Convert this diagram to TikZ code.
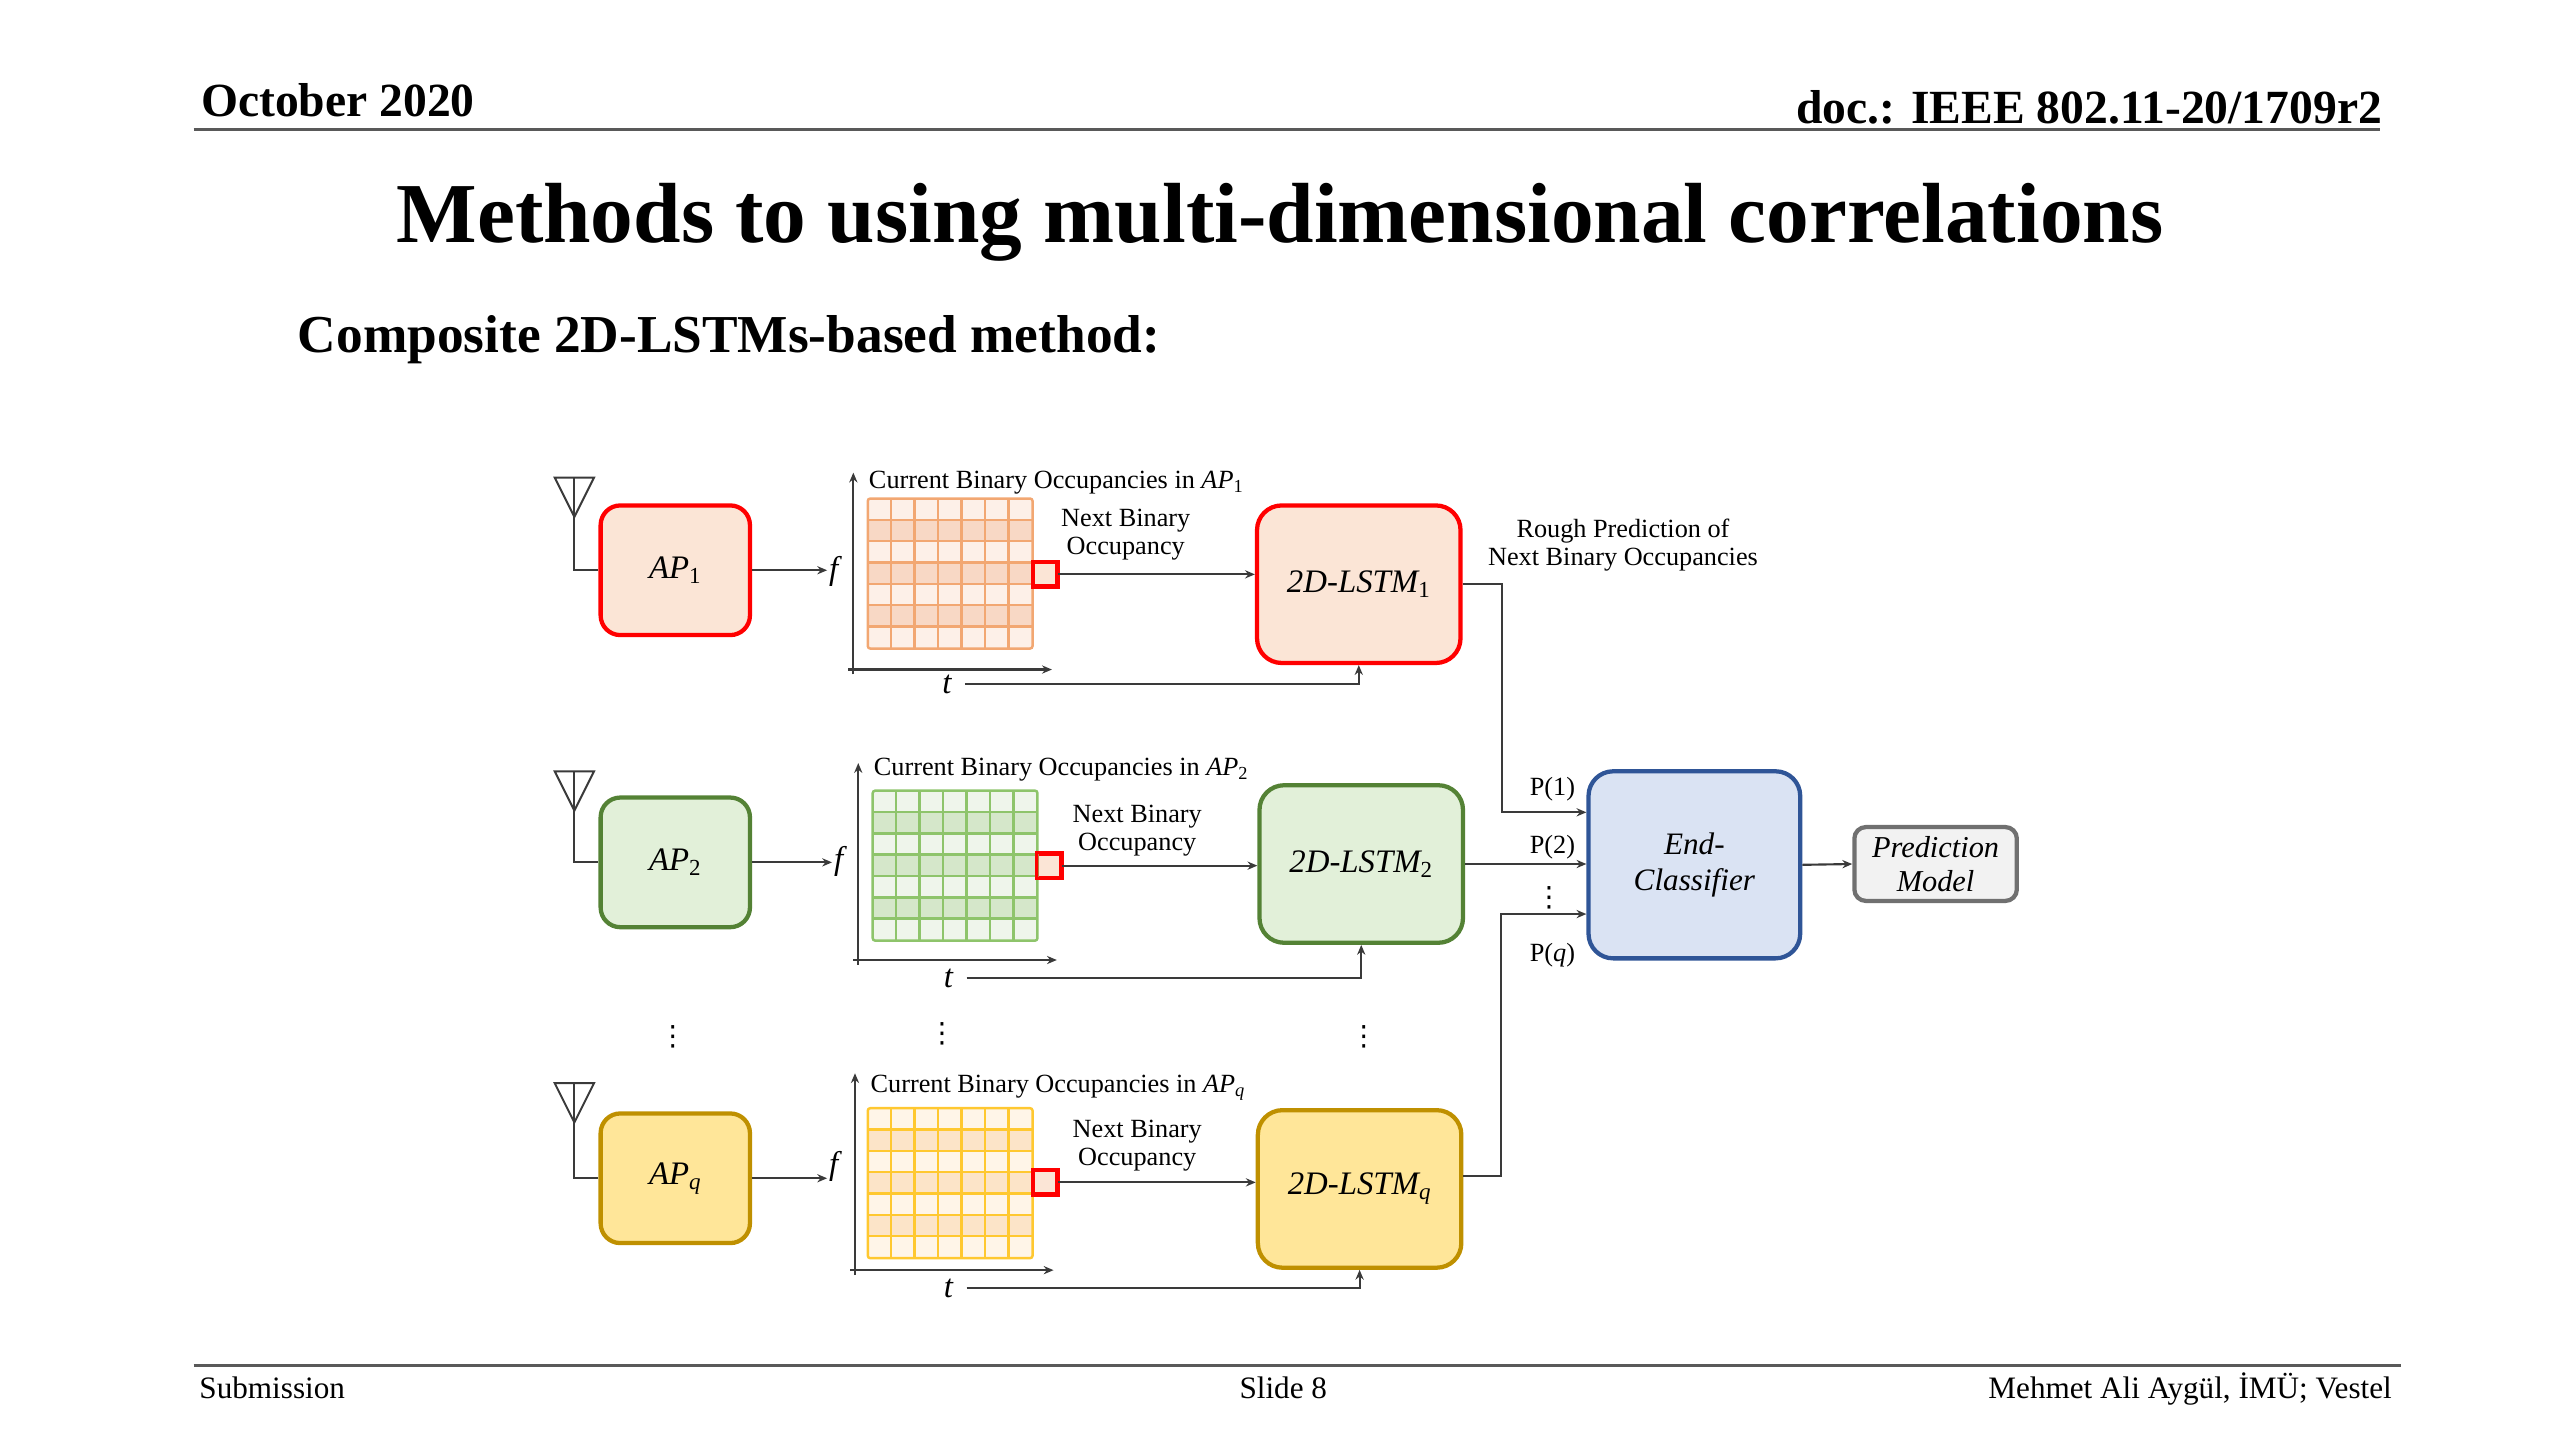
\documentclass[tikz,border=0pt]{standalone}
\usepackage{fontspec}
\setmainfont{Liberation Serif}
\newfontfamily\dotsfont{DejaVu Sans}
\usepackage{xcolor}
\usepackage{tikz}
\usetikzlibrary{positioning,calc,arrows.meta}

\definecolor{apred}{HTML}{FF0000}
\definecolor{peachfill}{HTML}{FBE5D6}
\definecolor{apgreen}{HTML}{548235}
\definecolor{greenfill}{HTML}{E2F0D9}
\definecolor{apgold}{HTML}{BF9000}
\definecolor{goldfill}{HTML}{FFE699}
\definecolor{clsblue}{HTML}{2F5597}
\definecolor{bluefill}{HTML}{DAE3F3}
\definecolor{predgray}{HTML}{707070}
\definecolor{grayfill}{HTML}{F2F2F2}
\definecolor{gridorange}{HTML}{F2A772}
\definecolor{lightorange}{HTML}{FDF0E8}
\definecolor{roworange}{HTML}{F8D8C5}
\definecolor{gridgreen}{HTML}{8EC46B}
\definecolor{lightgreen}{HTML}{EFF5EB}
\definecolor{rowgreen}{HTML}{D5E7CA}
\definecolor{gridyellow}{HTML}{FFC830}
\definecolor{lightyellow}{HTML}{FFF5E8}
\definecolor{rowyellow}{HTML}{FCE4C8}
\definecolor{linkgray}{HTML}{3A3A3A}

\begin{document}
\begin{tikzpicture}[
	x=1pt, y=1pt,
	every node/.style={font=\fontsize{16}{17}\selectfont},
	ap_box/.style={
		draw, rounded corners=12pt, line width=2.6pt,
		minimum width=91pt, minimum height=79pt,
		font=\fontsize{20}{22}\selectfont\itshape
	},
	lstm_box/.style={
		draw, rounded corners=15pt, line width=2.6pt,
		minimum width=124pt, minimum height=96pt,
		font=\fontsize{20}{22}\selectfont\itshape
	},
	grid_box/.style={
		minimum width=100pt, minimum height=91pt, inner sep=0pt
	},
	next_sq/.style={
		draw=apred, fill=peachfill, line width=1.8pt,
		minimum size=14pt, inner sep=0pt
	},
	flow_arrow/.style={
		-{Stealth[length=6pt, width=5pt]}, linkgray, line width=1.3pt
	},
	antenna/.style={linkgray, line width=1.2pt},
	axis_label/.style={font=\fontsize{20}{22}\selectfont\itshape, inner sep=1pt},
	time_label/.style={font=\fontsize{20}{22}\selectfont\itshape, inner xsep=8pt, inner ysep=1pt},
	vdots_mark/.style={font=\fontsize{17}{18}\selectfont\dotsfont, inner sep=0pt},
	header_line/.style={draw, black!65, line width=2pt}
	]
	\useasboundingbox (0,0) rectangle (1560,-877.5);
	
	% --- 1. SLIDE HEADER ---
	\node[anchor=base west, font=\fontsize{29}{31}\selectfont\bfseries] (date) at (119,-71) {October 2020};
	\node[anchor=base east, font=\fontsize{29}{31}\selectfont\bfseries] (docnum) at (1455,-75) {doc.: IEEE 802.11-20/1709r2};
	\draw[header_line] (118,-79) -- (1450,-79);
	
	\node[anchor=base, font=\fontsize{52}{58}\selectfont\bfseries] (title) at (780,-148) {Methods to using multi-dimensional correlations};
	\node[anchor=base west, font=\fontsize{32.5}{35}\selectfont\bfseries] (subtitle) at (178,-215) {Composite 2D-LSTMs-based method:};
	
	% --- 2. ROW 1 (AP_1) ---
	\coordinate (ant1) at (350,-291);
	\node[ap_box, draw=apred, fill=peachfill] (ap1) at (411.5,-347.5) {AP\textsubscript{\upshape 1}};
	\node[grid_box, fill=lightorange] (grid1) at (579,-349.5) {};
	\node[next_sq] (sq1) at (637,-350) {};
	\node[axis_label] (f1) at (508,-348) {f};
	\node[time_label] (t1) at (577,-417) {t};
	\coordinate (o1) at (520,-408);
	\node[anchor=west] (occ1) at (526,-294) {Current Binary Occupancies in \textit{AP}\textsubscript{1}};
	\node[align=center] (nxt1) at (686,-326) {Next Binary\\Occupancy};
	\node[lstm_box, draw=apred, fill=peachfill] (lstm1) at (828,-356) {2D-LSTM\textsubscript{\upshape 1}};
	
	% --- 3. ROW 2 (AP_2) ---
	\coordinate (ant2) at (350,-470);
	\node[ap_box, draw=apgreen, fill=greenfill] (ap2) at (411.5,-525.5) {AP\textsubscript{\upshape 2}};
	\node[grid_box, fill=lightgreen] (grid2) at (582,-527.5) {};
	\node[next_sq] (sq2) at (639.5,-527.5) {};
	\node[axis_label] (f2) at (511,-525) {f};
	\node[time_label] (t2) at (578,-596) {t};
	\coordinate (o2) at (523,-585);
	\node[anchor=west] (occ2) at (529,-469) {Current Binary Occupancies in \textit{AP}\textsubscript{2}};
	\node[align=center] (nxt2) at (693,-506) {Next Binary\\Occupancy};
	\node[lstm_box, draw=apgreen, fill=greenfill] (lstm2) at (829.5,-526.5) {2D-LSTM\textsubscript{\upshape 2}};
	
	% --- 4. ROW q (AP_q) ---
	\coordinate (antq) at (350,-660);
	\node[ap_box, draw=apgold, fill=goldfill] (apq) at (411.5,-718) {AP\textsubscript{q}};
	\node[grid_box, fill=lightyellow] (gridq) at (579,-721) {};
	\node[next_sq] (sqq) at (637,-720.5) {};
	\node[axis_label] (fq) at (508,-711) {f};
	\node[time_label] (tq) at (578,-785) {t};
	\coordinate (oq) at (521,-774);
	\node[anchor=west] (occq) at (527,-663) {Current Binary Occupancies in \textit{AP}\textsubscript{\textit{q}}};
	\node[align=center] (nxtq) at (693,-698) {Next Binary\\Occupancy};
	\node[lstm_box, draw=apgold, fill=goldfill] (lstmq) at (828.5,-724.5) {2D-LSTM\textsubscript{q}};
	
	% vertical dots between row 2 and row q
	\node[vdots_mark] (dots_ap) at (410,-632) {⋮};
	\node[vdots_mark] (dots_grid) at (574,-630) {⋮};
	\node[vdots_mark] (dots_lstm) at (831,-632) {⋮};
	
	% --- 5. GRIDS (rows + cell lines) ---
	\foreach \g/\lc/\dk in {grid1/gridorange/roworange, grid2/gridgreen/rowgreen, gridq/gridyellow/rowyellow} {
		\foreach \r in {1,3,5}
			\fill[\dk] ($(\g.north west)+(0,-\r*13)$) rectangle ++(100,-13);
		\foreach \c in {1,...,6}
			\draw[\lc, line width=1.5pt] ($(\g.north west)+(\c*100/7,0)$) -- ++(0,-91);
		\foreach \r in {1,...,6}
			\draw[\lc, line width=1.5pt] ($(\g.north west)+(0,-\r*13)$) -- ++(100,0);
		\draw[\lc, line width=1.5pt, rounded corners=1.5pt] (\g.north west) rectangle (\g.south east);
	}
	% redraw the red squares on top
	\foreach \s in {sq1, sq2, sqq}
		\draw[apred, line width=1.8pt] (\s.north west) rectangle (\s.south east);
	
	% --- 6. ANTENNAS, AXES AND ARROWS ---
	\foreach \n/\a in {1/ant1, 2/ant2, q/antq} {
		\draw[antenna] (\a) -- ++(-12,0) -- ++(12,-24) -- ++(12,24) -- cycle;
		\draw[antenna] (\a) |- (ap\n.west);
	}
	\foreach \n in {1,2,q} {
		\draw[flow_arrow] ($(o\n)+(0,-3)$) -- ++(0,123);
		\draw[flow_arrow] ($(o\n)+(-3,0)$) -- ++(124,0);
		\draw[flow_arrow] (ap\n.east) -- (ap\n.east -| f\n.west);
		\draw[flow_arrow] (sq\n.east) -- (sq\n.east -| lstm\n.west);
		\draw[flow_arrow] (t\n.east) -| (lstm\n.south);
	}
	
	% --- 7. END-CLASSIFIER ---
	\node[lstm_box, draw=clsblue, fill=bluefill, minimum width=129pt, minimum height=114pt,
		align=center, font=\fontsize{19}{22}\selectfont\itshape] (end_cls) at (1032.5,-527) {End-\\Classifier};
	\node[draw=predgray, fill=grayfill, rounded corners=7pt, line width=2.6pt,
		minimum width=99pt, minimum height=45pt, align=center,
		font=\fontsize{18.5}{21}\selectfont\itshape] (pred_model) at (1179.5,-526.5) {Prediction\\Model};
	
	\coordinate (in1) at ($(end_cls.west)+(0,32)$);
	\coordinate (inq) at ($(end_cls.west)+(0,-30)$);
	\draw[flow_arrow] (lstm1.east) -- ++(24,0) |- (in1);
	\draw[flow_arrow] (lstm2.east) -- (lstm2.east -| end_cls.west);
	\draw[flow_arrow] ($(lstmq.east)+(0,8)$) -- ++(23,0) |- (inq);
	\draw[flow_arrow] (end_cls.east) -- (pred_model.west);
	
	\node (p1) at (946,-481) {P(1)};
	\node (p2) at (946,-516) {P(2)};
	\node[vdots_mark] (pdots) at (944,-547) {⋮};
	\node (pq) at (946,-582) {P(\textit{q})};
	\node[align=center] (rough) at (989,-332) {Rough Prediction of\\Next Binary Occupancies};
	
	% --- 8. FOOTER ---
	\draw[header_line] (118,-832) -- (1463,-832);
	\node[anchor=base west, font=\fontsize{19}{21}\selectfont] (submission) at (118,-852) {Submission};
	\node[anchor=base, font=\fontsize{19}{21}\selectfont] (slide) at (782,-852) {Slide 8};
	\node[anchor=base east, font=\fontsize{19}{21}\selectfont] (author) at (1461,-852) {Mehmet Ali Aygül, İMÜ; Vestel};
	
\end{tikzpicture}
\end{document}
